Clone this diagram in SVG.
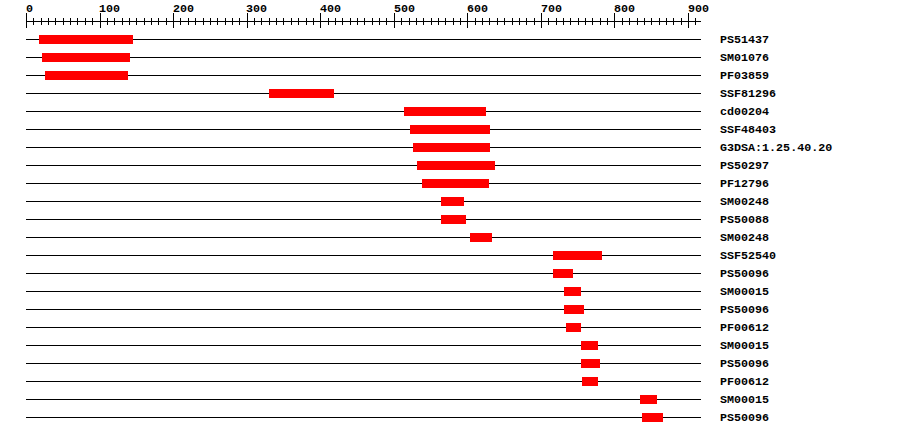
<svg xmlns="http://www.w3.org/2000/svg" width="900" height="436" viewBox="0 0 900 436">
<style>
.t{font-family:"Liberation Mono","DejaVu Sans Mono",monospace;font-weight:bold;font-size:11.7px;fill:#000}
.ax{stroke:#000;stroke-width:1;fill:none;shape-rendering:crispEdges}
.ln{stroke:#000;stroke-width:1;shape-rendering:crispEdges}
.bar{fill:#ff0000;shape-rendering:crispEdges}
</style>
<rect width="900" height="436" fill="#fff"/>
<g id="ruler">
<path class="ax" d="M26 21.5H701"/>
<path class="ax" d="M26.5 13V28M100.06 13V28M173.62 13V28M247.18 13V28M320.74 13V28M394.3 13V28M467.86 13V28M541.42 13V28M614.98 13V28M688.54 13V28"/>
<path class="ax" d="M33.86 18V25M41.21 18V25M48.57 18V25M55.92 18V25M63.28 18V25M70.64 18V25M77.99 18V25M85.35 18V25M92.7 18V25
M107.42 18V25M114.77 18V25M122.13 18V25M129.48 18V25M136.84 18V25M144.2 18V25M151.55 18V25M158.91 18V25M166.26 18V25
M180.98 18V25M188.33 18V25M195.69 18V25M203.04 18V25M210.4 18V25M217.76 18V25M225.11 18V25M232.47 18V25M239.82 18V25
M254.54 18V25M261.89 18V25M269.25 18V25M276.6 18V25M283.96 18V25M291.32 18V25M298.67 18V25M306.03 18V25M313.38 18V25
M328.1 18V25M335.45 18V25M342.81 18V25M350.16 18V25M357.52 18V25M364.88 18V25M372.23 18V25M379.59 18V25M386.94 18V25
M401.66 18V25M409.01 18V25M416.37 18V25M423.72 18V25M431.08 18V25M438.44 18V25M445.79 18V25M453.15 18V25M460.5 18V25
M475.22 18V25M482.57 18V25M489.93 18V25M497.28 18V25M504.64 18V25M512 18V25M519.35 18V25M526.71 18V25M534.06 18V25
M548.78 18V25M556.13 18V25M563.49 18V25M570.84 18V25M578.2 18V25M585.56 18V25M592.91 18V25M600.27 18V25M607.62 18V25
M622.34 18V25M629.69 18V25M637.05 18V25M644.4 18V25M651.76 18V25M659.12 18V25M666.47 18V25M673.83 18V25M681.18 18V25
M695.9 18V25"/>
<text class="t" x="26" y="12">0</text>
<text class="t" x="99" y="12">100</text>
<text class="t" x="173" y="12">200</text>
<text class="t" x="246" y="12">300</text>
<text class="t" x="320" y="12">400</text>
<text class="t" x="394" y="12">500</text>
<text class="t" x="467" y="12">600</text>
<text class="t" x="541" y="12">700</text>
<text class="t" x="614" y="12">800</text>
<text class="t" x="688" y="12">900</text>
</g>
<g id="connectors">
<path class="ln" d="M26 39.5H701M26 57.5H701M26 75.5H701M26 93.5H701M26 111.5H701M26 129.5H701M26 147.5H701M26 165.5H701M26 183.5H701M26 201.5H701M26 219.5H701M26 237.5H701M26 255.5H701M26 273.5H701M26 291.5H701M26 309.5H701M26 327.5H701M26 345.5H701M26 363.5H701M26 381.5H701M26 399.5H701M26 417.5H701"/>
</g>
<g id="r1"><rect class="bar" x="39" y="35" width="94" height="9"/><text class="t" x="720" y="42.5">PS51437</text></g>
<g id="r2"><rect class="bar" x="42" y="53" width="88" height="9"/><text class="t" x="720" y="60.5">SM01076</text></g>
<g id="r3"><rect class="bar" x="45" y="71" width="83" height="9"/><text class="t" x="720" y="78.5">PF03859</text></g>
<g id="r4"><rect class="bar" x="269" y="89" width="65" height="9"/><text class="t" x="720" y="96.5">SSF81296</text></g>
<g id="r5"><rect class="bar" x="404" y="107" width="82" height="9"/><text class="t" x="720" y="114.5">cd00204</text></g>
<g id="r6"><rect class="bar" x="410" y="125" width="80" height="9"/><text class="t" x="720" y="132.5">SSF48403</text></g>
<g id="r7"><rect class="bar" x="413" y="143" width="77" height="9"/><text class="t" x="720" y="150.5">G3DSA:1.25.40.20</text></g>
<g id="r8"><rect class="bar" x="417" y="161" width="78" height="9"/><text class="t" x="720" y="168.5">PS50297</text></g>
<g id="r9"><rect class="bar" x="422" y="179" width="67" height="9"/><text class="t" x="720" y="186.5">PF12796</text></g>
<g id="r10"><rect class="bar" x="441" y="197" width="23" height="9"/><text class="t" x="720" y="204.5">SM00248</text></g>
<g id="r11"><rect class="bar" x="441" y="215" width="25" height="9"/><text class="t" x="720" y="222.5">PS50088</text></g>
<g id="r12"><rect class="bar" x="470" y="233" width="22" height="9"/><text class="t" x="720" y="240.5">SM00248</text></g>
<g id="r13"><rect class="bar" x="553" y="251" width="49" height="9"/><text class="t" x="720" y="258.5">SSF52540</text></g>
<g id="r14"><rect class="bar" x="553" y="269" width="20" height="9"/><text class="t" x="720" y="276.5">PS50096</text></g>
<g id="r15"><rect class="bar" x="564" y="287" width="17" height="9"/><text class="t" x="720" y="294.5">SM00015</text></g>
<g id="r16"><rect class="bar" x="564" y="305" width="20" height="9"/><text class="t" x="720" y="312.5">PS50096</text></g>
<g id="r17"><rect class="bar" x="566" y="323" width="15" height="9"/><text class="t" x="720" y="330.5">PF00612</text></g>
<g id="r18"><rect class="bar" x="581" y="341" width="17" height="9"/><text class="t" x="720" y="348.5">SM00015</text></g>
<g id="r19"><rect class="bar" x="581" y="359" width="19" height="9"/><text class="t" x="720" y="366.5">PS50096</text></g>
<g id="r20"><rect class="bar" x="582" y="377" width="16" height="9"/><text class="t" x="720" y="384.5">PF00612</text></g>
<g id="r21"><rect class="bar" x="640" y="395" width="17" height="9"/><text class="t" x="720" y="402.5">SM00015</text></g>
<g id="r22"><rect class="bar" x="642" y="413" width="21" height="9"/><text class="t" x="720" y="420.5">PS50096</text></g>
</svg>
